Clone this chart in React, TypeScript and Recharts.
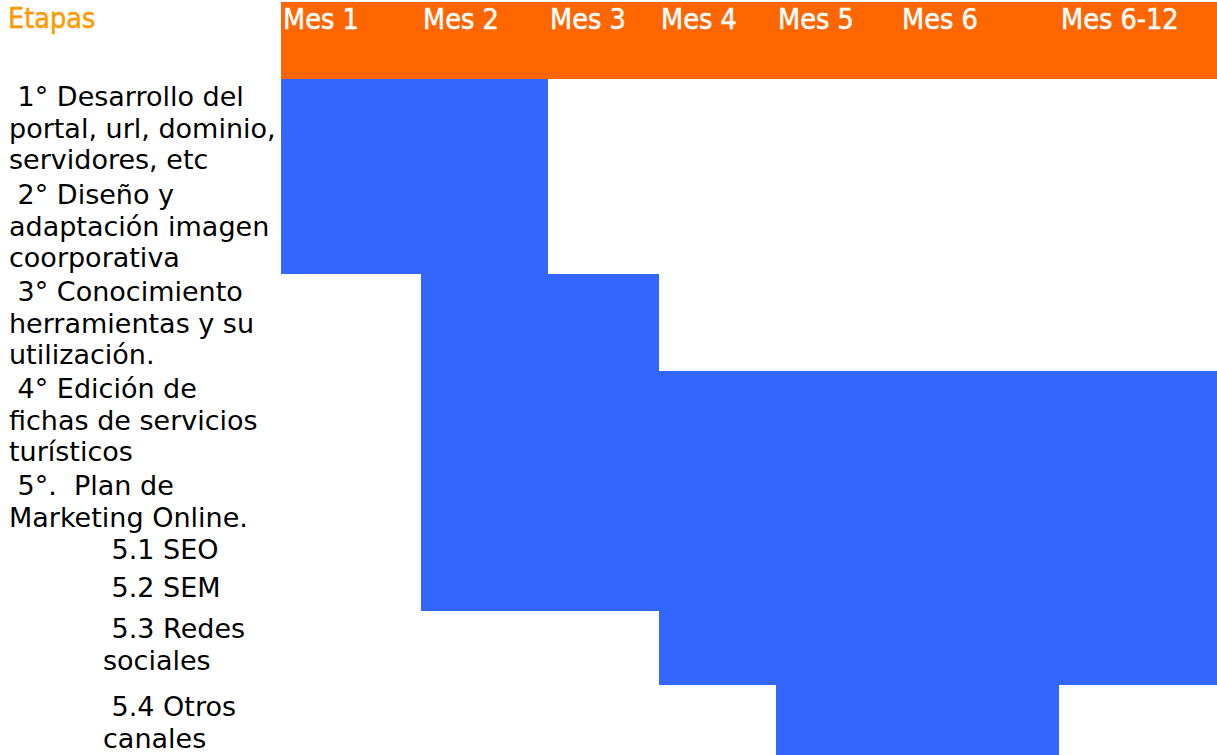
import { ComposedChart, XAxis, YAxis, ReferenceArea } from 'recharts';

// Month columns of the plan
const MONTHS = ['Mes 1', 'Mes 2', 'Mes 3', 'Mes 4', 'Mes 5', 'Mes 6', 'Mes 6-12'];

// Stage labels, one entry per table row (each entry is its wrapped lines)
const STAGES = [
  [' 1° Desarrollo del', 'portal, url, dominio,', 'servidores, etc'],
  [' 2° Diseño y', 'adaptación imagen', 'coorporativa'],
  [' 3° Conocimiento', 'herramientas y su', 'utilización.'],
  [' 4° Edición de', 'fichas de servicios', 'turísticos'],
  [' 5°.  Plan de', 'Marketing Online.'],
  [' 5.1 SEO'],
  [' 5.2 SEM'],
  [' 5.3 Redes', 'sociales'],
  [' 5.4 Otros', 'canales'],
];

// first month column of each stage, and the column where it stops
const STAGE_START = [0, 0, 1, 1, 1, 1, 1, 3, 4];
const STAGE_END = [2, 2, 3, 7, 7, 7, 7, 7, 6];

// sub-items of stage 5 are indented
const IS_SUBITEM = [false, false, false, false, false, true, true, true, true];

// table layout
const CHART_W = 1217;
const CHART_H = 755;
const LABEL_COL_W = 281;
const COL_WIDTHS = [140, 127, 111, 117, 124, 159, 158];
const ROW_HEIGHTS = [98, 97, 97, 97, 64, 38, 41, 74, 70];
const HEADER_TOP = 2;
const HEADER_BOTTOM = 79;

const ORANGE = '#FF6600';
const BLUE = '#3366FF';
const TITLE_COLOR = '#FF9900';
const BODY_FONT = '"DejaVu Sans", Verdana, sans-serif';
const HEAD_FONT = '"DejaVu Sans Condensed", Tahoma, "DejaVu Sans", sans-serif';
const HEAD_SIZE = 28.5;

const COL_EDGES = COL_WIDTHS.reduce((acc, w) => [...acc, acc[acc.length - 1] + w], [0]);
const ROW_EDGES = ROW_HEIGHTS.reduce((acc, h) => [...acc, acc[acc.length - 1] + h], [HEADER_BOTTOM]);
const ROW_TOPS = ROW_EDGES.slice(0, -1);

const rows = STAGES.map((lines, i) => ({
  stage: lines.join(' ').trim(),
  start: STAGE_START[i],
  end: STAGE_END[i],
  col: COL_EDGES[STAGE_START[i]],
  top: ROW_EDGES[i],
}));

function StageTick(props: any) {
  const { y, payload } = props;
  const row = ROW_TOPS.indexOf(payload.value);
  if (row < 0) {
    return (
      <text
        x={8}
        y={y + 26}
        fill={TITLE_COLOR}
        stroke={TITLE_COLOR}
        strokeWidth={0.5}
        fontFamily={HEAD_FONT}
        fontSize={HEAD_SIZE}
      >
        Etapas
      </text>
    );
  }
  const left = IS_SUBITEM[row] ? 103 : 9;
  // the last stage sits a little lower in its row
  const firstLine = row === STAGES.length - 1 ? 31 : 27;
  return (
    <text
      x={left}
      y={y + firstLine}
      fill="#000"
      fontFamily={BODY_FONT}
      fontSize={27}
      xmlSpace="preserve"
      style={{ whiteSpace: 'pre' }}
    >
      {STAGES[row].map((line, i) => (
        <tspan key={i} x={left} dy={i === 0 ? 0 : 31.5}>
          {line}
        </tspan>
      ))}
    </text>
  );
}

function MonthLabel(props: any) {
  const { viewBox, text } = props;
  return (
    <text
      x={viewBox.x + 2}
      y={viewBox.y + 26.5}
      fill="#fff"
      stroke="#fff"
      strokeWidth={0.5}
      fontFamily={HEAD_FONT}
      fontSize={HEAD_SIZE}
    >
      {text}
    </text>
  );
}

export default function App() {
  return (
    <div style={{ position: 'absolute', left: 0, top: 0, width: CHART_W, height: CHART_H, background: '#fff' }}>
      <ComposedChart
        width={CHART_W}
        height={CHART_H}
        data={rows}
        margin={{ top: 0, right: 0, bottom: 0, left: 0 }}
      >
        <XAxis
          dataKey="col"
          type="number"
          domain={[0, COL_EDGES[COL_EDGES.length - 1]]}
          allowDataOverflow
          height={0}
          tick={false}
          axisLine={false}
          tickLine={false}
        />
        <YAxis
          dataKey="top"
          type="number"
          domain={[0, CHART_H]}
          reversed
          allowDataOverflow
          width={LABEL_COL_W}
          ticks={[HEADER_TOP, ...ROW_TOPS]}
          interval={0}
          axisLine={false}
          tickLine={false}
          tick={<StageTick />}
        />

        {/* header band */}
        {MONTHS.map((m, i) => (
          <ReferenceArea
            key={m}
            x1={COL_EDGES[i]}
            x2={COL_EDGES[i + 1]}
            y1={HEADER_TOP}
            y2={HEADER_BOTTOM}
            fill={ORANGE}
            fillOpacity={1}
            stroke="none"
            ifOverflow="visible"
            label={<MonthLabel text={m} />}
          />
        ))}

        {/* one bar per stage, spanning its months */}
        {rows.map((r, i) => (
          <ReferenceArea
            key={r.stage}
            x1={COL_EDGES[r.start]}
            x2={COL_EDGES[r.end]}
            y1={ROW_EDGES[i]}
            y2={ROW_EDGES[i + 1]}
            fill={BLUE}
            fillOpacity={1}
            stroke="none"
            ifOverflow="visible"
          />
        ))}
      </ComposedChart>
    </div>
  );
}
